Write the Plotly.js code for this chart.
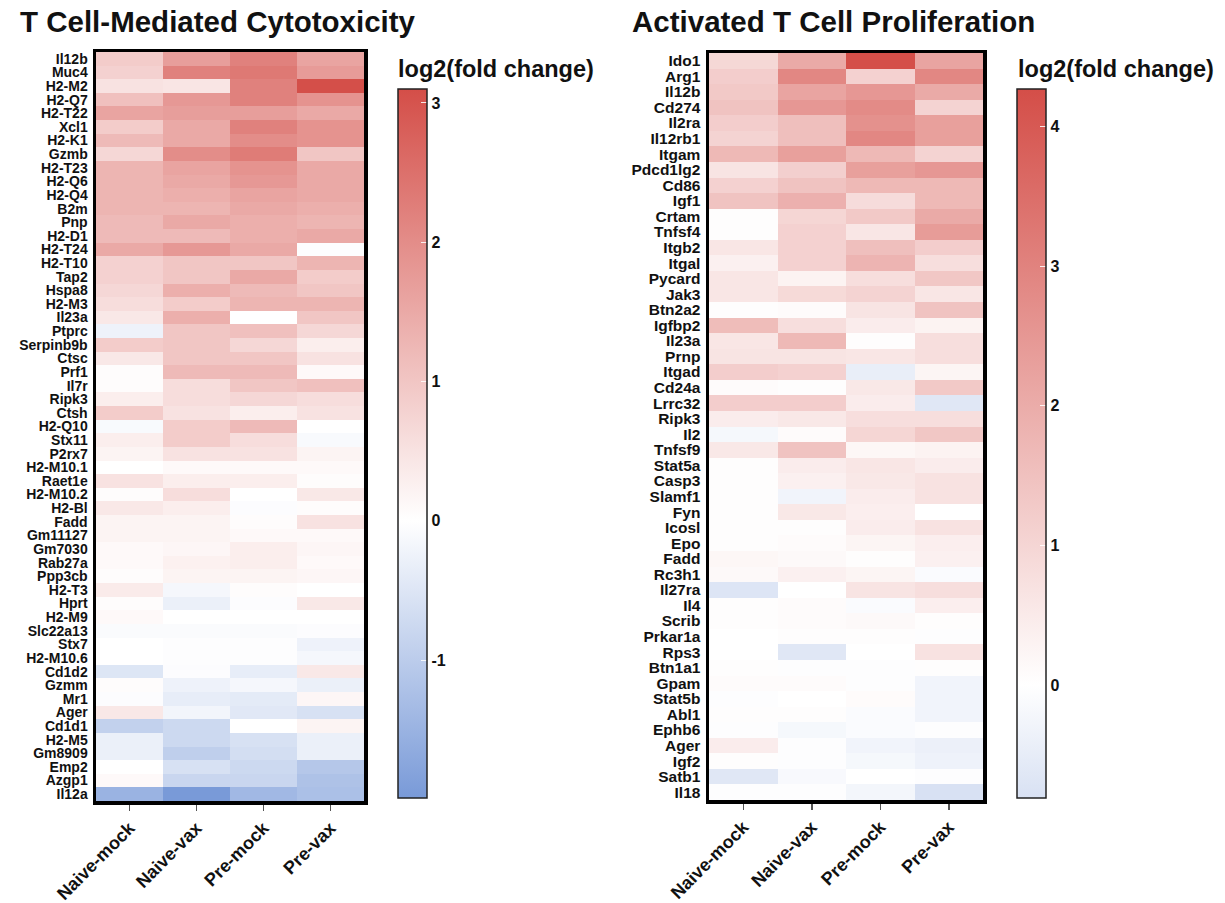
<!DOCTYPE html>
<html>
<head>
<meta charset="utf-8">
<script src="https://cdn.plot.ly/plotly-3.0.1.min.js"></script>
<style>html,body{margin:0;padding:0;background:#fff;}#chart{width:1225px;height:903px;}</style>
</head>
<body>
<div id="chart"></div>
<script>
// ---------- data ----------
const conditions = ["Naive-mock", "Naive-vax", "Pre-mock", "Pre-vax"];

const cytoGenes = ["Il12b","Muc4","H2-M2","H2-Q7","H2-T22","Xcl1","H2-K1","Gzmb","H2-T23","H2-Q6","H2-Q4","B2m","Pnp","H2-D1","H2-T24","H2-T10","Tap2","Hspa8",
  "H2-M3","Il23a","Ptprc","Serpinb9b","Ctsc","Prf1","Il7r","Ripk3","Ctsh","H2-Q10","Stx11","P2rx7","H2-M10.1","Raet1e","H2-M10.2","H2-Bl","Fadd","Gm11127",
  "Gm7030","Rab27a","Ppp3cb","H2-T3","Hprt","H2-M9","Slc22a13","Stx7","H2-M10.6","Cd1d2","Gzmm","Mr1","Ager","Cd1d1","H2-M5","Gm8909","Emp2","Azgp1","Il12a"];

const cytoNaiveMock = [0.9,0.8,0.5,1.1,1.6,0.9,1.2,0.7,1.3,1.3,1.3,1.3,1.2,1.2,1.5,0.8,0.8,0.7,
  0.6,0.4,-0.25,0.9,0.4,0.05,0.05,0.3,0.9,-0.1,0.3,0.2,0.0,0.5,0.05,0.4,0.2,0.2,
  0.1,0.1,0.05,0.35,0.05,0.1,-0.08,0.0,0.0,-0.5,0.05,-0.05,0.4,-0.9,-0.3,-0.3,0.0,0.1,-1.5];
const cytoNaiveVax = [1.7,2.2,0.45,1.8,1.7,1.5,1.5,2.0,1.6,1.5,1.4,1.3,1.5,1.2,1.8,1.0,1.0,1.4,
  0.9,1.4,1.0,1.0,1.0,1.2,0.6,0.6,0.5,0.9,0.9,0.5,0.1,0.3,0.6,0.3,0.2,0.2,
  0.15,0.25,0.2,-0.15,-0.3,0.0,-0.08,-0.03,-0.03,-0.05,-0.25,-0.35,-0.2,-0.75,-0.75,-0.95,-0.6,-0.8,-1.99];
const cytoPreMock = [2.2,2.35,2.2,2.2,1.7,2.2,2.0,2.3,1.9,1.8,1.6,1.5,1.4,1.4,1.5,1.0,1.5,1.2,
  1.3,0.0,1.1,0.7,1.0,1.2,1.0,0.7,0.3,1.2,0.6,0.5,0.1,0.3,0.0,-0.05,0.05,0.1,
  0.3,0.3,0.2,0.05,-0.05,0.0,-0.08,-0.03,-0.03,-0.35,-0.15,-0.4,-0.45,0.0,-0.6,-0.65,-0.75,-0.8,-1.4];
const cytoPreVax = [1.6,1.75,3.08,1.9,1.5,1.9,1.9,1.0,1.5,1.5,1.5,1.4,1.3,1.5,-0.03,1.3,0.9,1.0,
  1.3,1.0,0.7,0.3,0.5,0.1,1.1,0.6,0.5,0.0,-0.1,0.2,0.1,0.05,0.4,0.05,0.5,0.1,
  0.15,0.1,0.15,0.0,0.4,0.0,-0.05,-0.25,-0.15,0.4,-0.3,0.15,-0.6,0.2,-0.3,-0.3,-1.1,-1.2,-1.25];

const prolGenes = ["Ido1","Arg1","Il12b","Cd274","Il2ra","Il12rb1","Itgam","Pdcd1lg2","Cd86","Igf1","Crtam","Tnfsf4","Itgb2","Itgal","Pycard","Jak3",
  "Btn2a2","Igfbp2","Il23a","Prnp","Itgad","Cd24a","Lrrc32","Ripk3","Il2","Tnfsf9","Stat5a","Casp3","Slamf1","Fyn","Icosl","Epo",
  "Fadd","Rc3h1","Il27ra","Il4","Scrib","Prkar1a","Rps3","Btn1a1","Gpam","Stat5b","Abl1","Ephb6","Ager","Igf2","Satb1","Il18"];

const prolNaiveMock = [0.95,1.2,1.3,1.45,1.2,1.05,1.7,0.65,1.1,1.45,0.05,0.05,0.6,0.35,0.6,0.6,
  0.05,1.6,0.6,0.65,1.2,0.1,1.2,0.45,-0.2,0.55,0.05,0.05,0.05,0.05,0.05,0.05,
  0.2,0.15,-0.7,0.05,0.05,0.0,0.0,0.05,0.1,-0.05,0.05,-0.05,0.45,0.05,-0.65,-0.05];
const prolNaiveVax = [2.05,2.9,2.2,2.5,1.55,1.55,2.3,1.15,1.45,1.9,1.0,1.1,1.1,1.1,0.3,0.9,
  0.1,0.8,1.7,0.65,1.1,0.05,1.2,0.55,0.1,1.45,0.45,0.35,-0.3,0.55,0.05,0.1,
  0.15,0.35,0.0,0.1,0.1,0.05,-0.65,-0.05,0.1,0.0,0.05,-0.2,-0.05,-0.05,-0.15,-0.05];
const prolPreMock = [4.25,1.1,2.5,2.8,2.65,2.9,1.7,2.3,1.7,0.85,1.3,0.6,1.55,1.8,0.8,1.05,
  0.65,0.45,0.05,0.6,-0.45,0.55,0.45,0.8,1.0,0.2,0.6,0.55,0.45,0.4,0.45,0.25,
  0.05,0.25,0.65,-0.1,0.15,0.05,0.0,-0.05,-0.05,0.1,-0.1,-0.1,-0.3,-0.2,0.0,-0.25];
const prolPreVax = [2.2,2.9,2.05,1.05,2.3,2.3,1.05,2.5,1.7,1.7,2.05,2.4,1.2,0.8,1.35,0.6,
  1.45,0.3,0.8,0.8,0.25,1.3,-0.65,0.8,1.35,0.3,0.45,0.7,0.7,0.0,0.7,0.4,
  0.35,-0.1,0.8,0.4,0.05,-0.05,0.7,0.05,-0.3,-0.3,-0.3,-0.05,-0.4,-0.35,-0.05,-0.81];

const cytoRange = [-1.99, 3.1];
const prolRange = [-0.81, 4.27];
const cytoTicks = [-1, 0, 1, 2, 3];
const prolTicks = [0, 1, 2, 3, 4];

// ---------- helpers ----------
function rows(genes, cols) {
  return genes.map((g, i) => cols.map(c => c[i]));
}
const RED = [212, 78, 72], BLUE = [47, 97, 194];
function mix(full, t) {
  return 'rgb(' + full.map(c => Math.round(255 - t * (255 - c))).join(',') + ')';
}
function divScale(range) {
  const M = Math.max(Math.abs(range[0]), Math.abs(range[1]));
  const z0 = (0 - range[0]) / (range[1] - range[0]);
  return [
    [0, mix(BLUE, Math.abs(range[0]) / M)],
    [z0, 'rgb(255,255,255)'],
    [1, mix(RED, range[1] / M)]
  ];
}

const W = 1225, H = 903;
const FONT = 'Liberation Sans, Arial, Helvetica, sans-serif';
const px = v => v / W, py = v => 1 - v / H;

function cbar(x, ticks) {
  return {
    x: px(x), xref: 'paper', xanchor: 'left', xpad: 0,
    y: py(89), yref: 'paper', yanchor: 'top', ypad: 0,
    len: 709 / H, lenmode: 'fraction',
    thickness: 29, thicknessmode: 'pixels',
    outlinewidth: 1.5, outlinecolor: '#222',
    tickvals: ticks, ticktext: ticks.map(String),
    ticks: 'inside', ticklen: 6, tickcolor: 'rgba(255,255,255,0.85)', tickwidth: 1,
    tickfont: {family: FONT, size: 16, color: '#111', weight: 'bold'},
    ticklabelpad: 8
  };
}

const traces = [
  {
    type: 'heatmap', x: conditions, y: cytoGenes,
    z: rows(cytoGenes, [cytoNaiveMock, cytoNaiveVax, cytoPreMock, cytoPreVax]),
    zmin: cytoRange[0], zmax: cytoRange[1], colorscale: divScale(cytoRange),
    xaxis: 'x', yaxis: 'y', colorbar: cbar(398, cytoTicks), hoverinfo: 'skip'
  },
  {
    type: 'heatmap', x: conditions, y: prolGenes,
    z: rows(prolGenes, [prolNaiveMock, prolNaiveVax, prolPreMock, prolPreVax]),
    zmin: prolRange[0], zmax: prolRange[1], colorscale: divScale(prolRange),
    xaxis: 'x2', yaxis: 'y2', colorbar: cbar(1017, prolTicks), hoverinfo: 'skip'
  }
];

function xax(d0, d1, anchor) {
  return {
    domain: [px(d0), px(d1)], anchor: anchor, type: 'category',
    tickmode: 'array', tickvals: conditions, ticktext: conditions,
    tickangle: -45, ticks: 'outside', ticklen: 6, tickwidth: 1.5, tickcolor: '#555',
    tickfont: {family: FONT, size: 18, color: '#111', weight: 'bold'},
    showline: true, mirror: true, linewidth: 3.5, linecolor: '#000',
    showgrid: false, zeroline: false, fixedrange: true
  };
}
function yax(t, b, anchor, fs, genes) {
  return {
    domain: [py(b), py(t)], anchor: anchor, type: 'category', autorange: 'reversed',
    tickmode: 'array', tickvals: genes, ticktext: genes,
    ticks: '', tickfont: {family: FONT, size: fs, color: '#111', weight: 'bold'},
    showline: true, mirror: true, linewidth: 3.5, linecolor: '#000',
    showgrid: false, zeroline: false, fixedrange: true, ticklabelstandoff: 2
  };
}

const ann = (text, x, y, size) => ({
  text: text, x: px(x), y: py(y), xref: 'paper', yref: 'paper',
  xanchor: 'left', yanchor: 'middle', showarrow: false,
  font: {family: FONT, size: size, color: '#111', weight: 'bold'}
});

const layout = {
  width: W, height: H, margin: {l: 0, r: 0, t: 0, b: 0},
  paper_bgcolor: '#fff', plot_bgcolor: '#fff',
  showlegend: false,
  xaxis: xax(96, 364, 'y'),
  yaxis: yax(52, 801, 'x', 14, cytoGenes),
  xaxis2: xax(709, 983, 'y2'),
  yaxis2: yax(53, 800, 'x2', 15.5, prolGenes),
  annotations: [
    ann('T Cell-Mediated Cytotoxicity', 18, 21, 29.5),
    ann('Activated T Cell Proliferation', 630, 21, 29.5),
    ann('log2(fold change)', 396, 69, 23.5),
    ann('log2(fold change)', 1016, 69, 23.5)
  ]
};

Plotly.newPlot('chart', traces, layout, {staticPlot: true, displayModeBar: false});
</script>
</body>
</html>
